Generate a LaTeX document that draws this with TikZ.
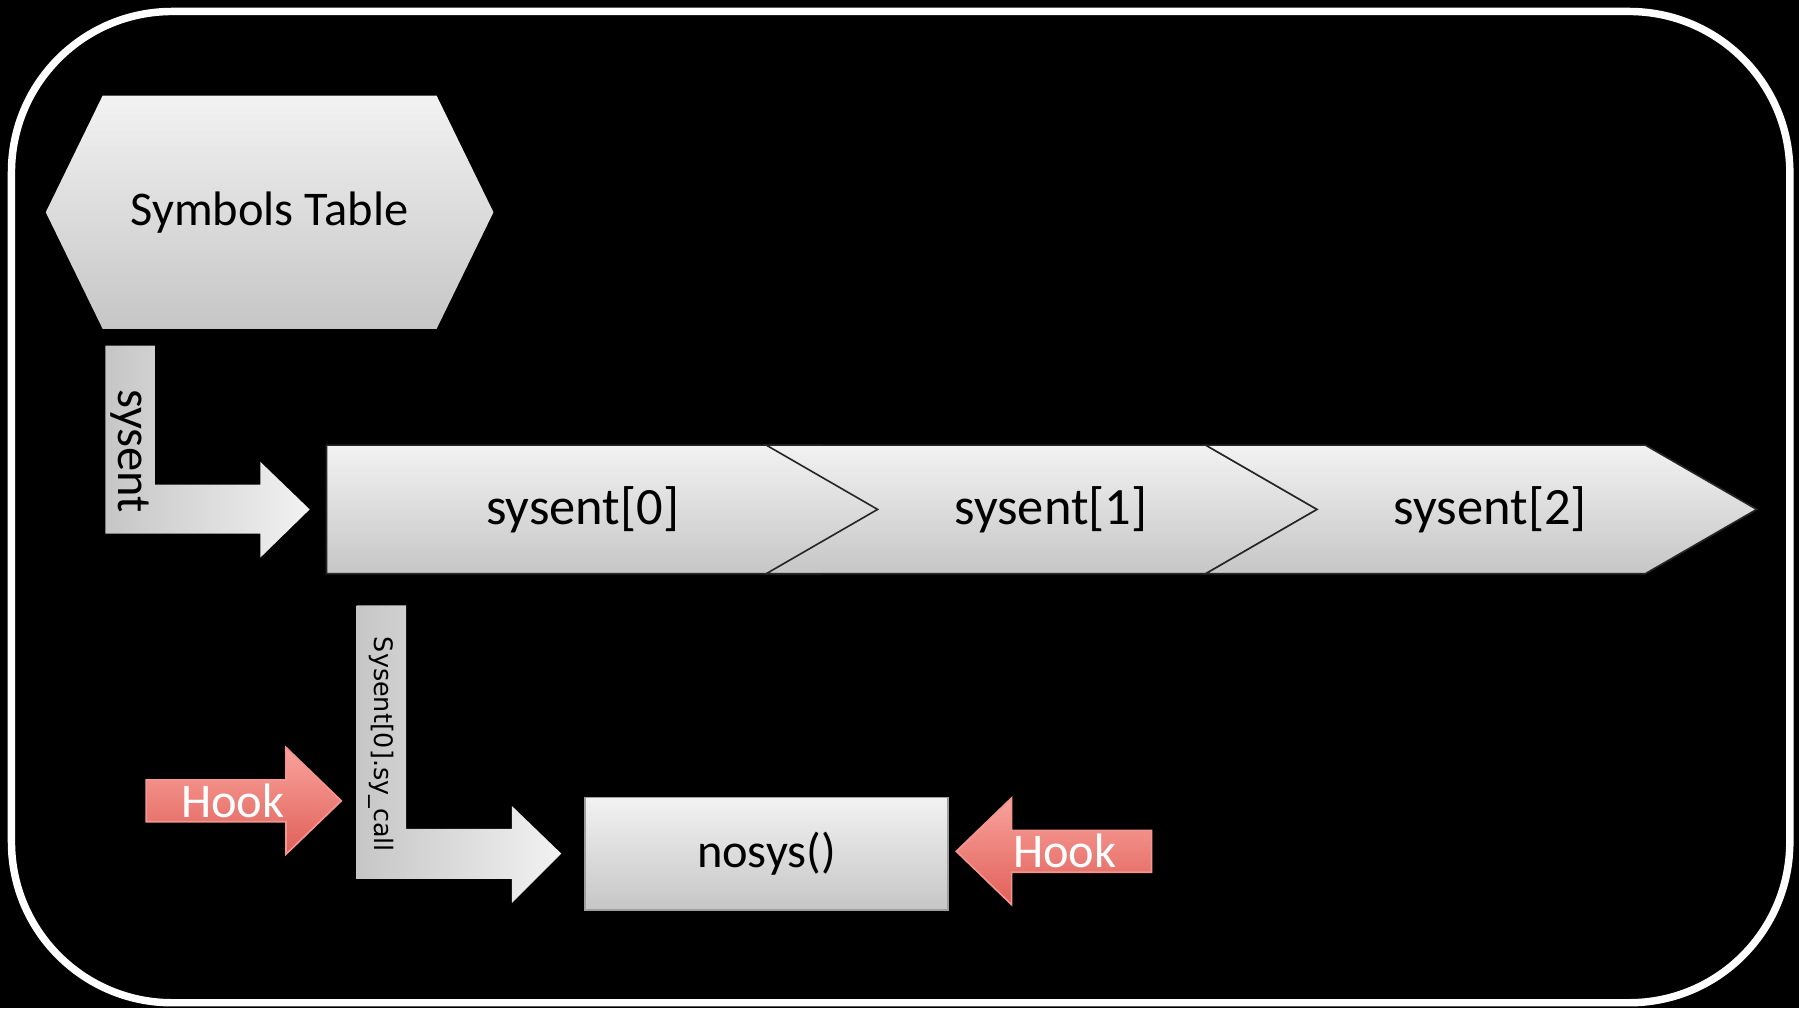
\documentclass[tikz,border=0pt]{standalone}
\usepackage{fontspec}
\setmainfont{Carlito}
\newfontfamily\petitepolice{DejaVu Sans}
\usetikzlibrary{shapes.symbols,shapes.arrows,calc}
\definecolor{grisclair}{RGB}{242,242,242}
\definecolor{grisfonce}{RGB}{198,198,198}
\definecolor{rougeclair}{RGB}{249,163,156}
\definecolor{rougefonce}{RGB}{224,96,89}
\begin{document}
\begin{tikzpicture}[x=0.01cm,y=-0.01cm,font=\fontsize{12}{14}\selectfont]
% Styles
\tikzstyle{gris}=[top color=grisclair,bottom color=grisfonce]
\tikzstyle{hexa}=[signal,signal to=west and east,signal pointer angle=128,gris,minimum width=3.9cm,minimum height=2.03cm,inner sep=0pt]
\tikzstyle{chevron}=[signal,signal to=east,signal pointer angle=60,gris,draw=black!85,thin,minimum width=4.8cm,minimum height=1.12cm,inner sep=0pt,font=\fontsize{13}{15}\selectfont]
\tikzstyle{chevronsuite}=[chevron,signal from=west]
\tikzstyle{boite}=[rectangle,gris,draw=grisfonce!80!black,minimum width=3.16cm,minimum height=0.98cm]
\tikzstyle{crochet}=[single arrow,single arrow head extend=0.24cm,single arrow tip angle=88,top color=rougeclair,bottom color=rougefonce,draw=rougeclair!80!rougefonce,text=white,minimum height=1.7cm,minimum width=0.93cm,inner sep=0pt]
\tikzstyle{coude}=[left color=grisfonce,right color=grisclair]
\tikzstyle{legende}=[rotate=-90,inner sep=0pt]
% Fond et cadre
\useasboundingbox (0,0) rectangle (1568,879);
\fill[black] (0,0) rectangle (1568,879);
\draw[white,line width=0.065cm,rounded corners=1.4cm] (10,10) rectangle (1560,874);
% Noeuds
\node[hexa] (symtab) at (235,185) {Symbols Table};
\node[chevron,minimum width=5.275cm] (s0) at (500,444) {\hspace*{0.16cm}sysent[0]};
\node[chevronsuite] (s1) at (908,444) {\hspace*{0.16cm}sysent[1]};
\node[chevronsuite] (s2) at (1291,444) {\hspace*{0.16cm}sysent[2]};
\node[boite] (nosys) at (668,744) {nosys()};
\node[crochet] (hook1) at (203,698) {Hook};
\node[crochet,shape border rotate=180] (hook2) at (928,742) {Hook};
% Coudes
\coordinate (a1) at ([xshift=-1.43cm,yshift=-0.14cm]symtab.south);
\coordinate (a2) at ([xshift=-0.14cm]s0.west);
\shade[coude] (a1) -- ++(43,0) |- ($(a2)+(-43,-21.5)$) -- ++(0,-20) -- (a2) -- ++(-43,42) -- ++(0,-21) -| (a1) -- cycle;
\node[legende] at ($(a1)+(21.5,92)$) {sysent};
\coordinate (a3) at ([xshift=0.27cm,yshift=-0.27cm]s0.south west);
\coordinate (a4) at ([xshift=-0.2cm]nosys.west);
\shade[coude] (a3) -- ++(43,0) |- ($(a4)+(-43,-21.5)$) -- ++(0,-20) -- (a4) -- ++(-43,43) -- ++(0,-21) -| (a3) -- cycle;
\node[legende,font=\petitepolice\fontsize{6.3}{7}\selectfont] at ($(a3)+(21.5,121)$) {Sysent[0].sy\_call};
\end{tikzpicture}
\end{document}
